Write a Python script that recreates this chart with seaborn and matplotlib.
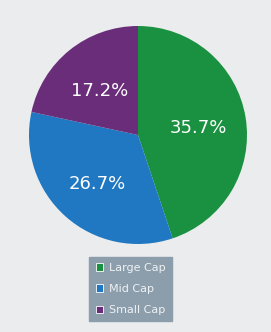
import matplotlib
matplotlib.use("Agg")
import matplotlib.pyplot as plt
import seaborn as sns
from matplotlib.patches import Patch

categories = ["Large Cap", "Mid Cap", "Small Cap"]
values = [35.7, 26.7, 17.2]
colors = ["#1a9140", "#1f78c1", "#6a2d7a"]
bg = "#ebeced"

sns.set_theme(style="white")
plt.rcParams['font.family'] = ['DejaVu Sans']

W, H = 271, 332
fig = plt.figure(figsize=(W / 100, H / 100), dpi=100, facecolor=bg)
cx, cy, r = 138, 135, 109
ax = fig.add_axes([(cx - r) / W, 1 - (cy + r) / H, 2 * r / W, 2 * r / H])
ax.set_facecolor(bg)

val_iter = iter(values)
wedges, texts, autotexts = ax.pie(
    values, colors=colors, startangle=90, counterclock=False,
    autopct=lambda p: f"{next(val_iter):.1f}%", pctdistance=0.56,
    textprops=dict(color="white", fontsize=13),
    wedgeprops=dict(linewidth=0))
for t in autotexts:
    x, y = t.get_position()
    t.set_position((x, y - 0.03))
ax.set_xlim(-1, 1)
ax.set_ylim(-1, 1)
ax.set_aspect("equal")
ax.axis("off")

handles = [Patch(facecolor=c, edgecolor="white", linewidth=0.6) for c in colors]
leg = fig.legend(handles, categories, loc="upper center",
                 bbox_to_anchor=(130.5 / W, 1 - 257 / H),
                 frameon=True, fancybox=False, fontsize=8,
                 handlelength=0.7, handleheight=0.7, handletextpad=0.5,
                 labelspacing=1.0, borderpad=0.55, borderaxespad=0)
frame = leg.get_frame()
frame.set_facecolor("#8c9dab")
frame.set_edgecolor("#8c9dab")
frame.set_alpha(1)
for t in leg.get_texts():
    t.set_color("#eef2f5")

fig.savefig("out.png", dpi=100, facecolor=bg)
